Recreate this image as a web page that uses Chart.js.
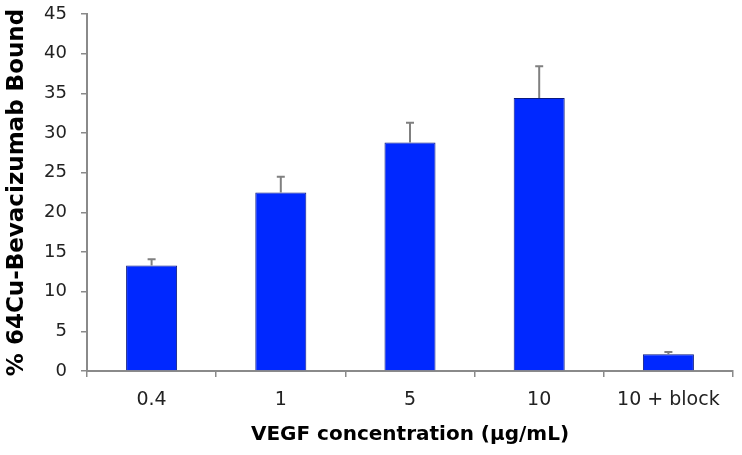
<!DOCTYPE html>
<html>
<head>
<meta charset="utf-8">
<script src="https://cdn.jsdelivr.net/npm/chart.js@4"></script>
<style>
  html, body { margin: 0; padding: 0; background: #fff; }
</style>
</head>
<body>
<canvas id="boundChart" width="742" height="455"></canvas>
<script>
// values
const categories = ["0.4", "1", "5", "10", "10 + block"];
const bound = [13.3, 22.5, 28.8, 34.4, 2.1];
const boundErr = [0.8, 2.0, 2.5, 4.0, 0.3];
const yTicks = [0, 5, 10, 15, 20, 25, 30, 35, 40, 45];

const axisGrey = "#8a8a8a";
const font = "'DejaVu Sans', sans-serif";

// draw upward error bars from the y scale
const errorBars = {
    id: "errorBars",
    afterDatasetsDraw(chart) {
        const meta = chart.getDatasetMeta(0);
        const y = chart.scales.y;
        const c = chart.ctx;
        c.save();
        c.strokeStyle = "#808080";
        c.lineWidth = 2;
        meta.data.forEach((bar, i) => {
            const yTop = y.getPixelForValue(bound[i] + boundErr[i]);
            const yBase = y.getPixelForValue(bound[i]);
            c.beginPath();
            c.moveTo(bar.x, yBase);
            c.lineTo(bar.x, yTop);
            c.moveTo(bar.x - 4, yTop);
            c.lineTo(bar.x + 4, yTop);
            c.stroke();
        });
        c.restore();
    }
};

const ctx = document.getElementById("boundChart");

new Chart(ctx, {
    type: "bar",
    data: {
        labels: categories,
        datasets: [
            {
                data: bound,
                backgroundColor: "#0028ff",
                borderColor: "#0a1a80",
                borderWidth: 1,
                categoryPercentage: 1,
                barPercentage: 0.395
            }
        ]
    },
    options: {
        responsive: false,
        animation: false,
        layout: { padding: { left: 0, right: 9, top: 14, bottom: 0 } },
        plugins: {
            legend: { display: false },
            tooltip: { enabled: false }
        },
        scales: {
            x: {
                afterFit: (s) => { s.height = 84; },
                grid: {
                    offset: true,
                    drawOnChartArea: false,
                    color: axisGrey,
                    lineWidth: 1.5,
                    tickLength: 6
                },
                border: { color: axisGrey, width: 2 },
                ticks: {
                    color: "#222",
                    padding: 12,
                    autoSkip: false,
                    maxRotation: 0,
                    font: { family: font, size: 19 }
                },
                title: {
                    display: true,
                    text: "VEGF concentration (μg/mL)",
                    color: "#000",
                    padding: { top: 4, bottom: 8 },
                    font: { family: font, size: 20, weight: "bold" }
                }
            },
            y: {
                min: 0,
                max: 45,
                afterFit: (s) => {
                    s.width = 87;
                    s.paddingTop = 11; // tick padding would otherwise push the plot down
                    s.paddingBottom = 11;
                },
                afterBuildTicks: (s) => { s.ticks = yTicks.map(v => ({ value: v })); },
                grid: {
                    drawOnChartArea: false,
                    color: axisGrey,
                    lineWidth: 1.5,
                    tickLength: 6
                },
                border: { color: axisGrey, width: 2 },
                ticks: {
                    color: "#222",
                    padding: 14,
                    font: { family: font, size: 18 }
                },
                title: {
                    display: true,
                    text: "% 64Cu-Bevacizumab Bound",
                    color: "#000",
                    padding: { top: 3, bottom: 0 },
                    font: { family: font, size: 23, weight: "bold" }
                }
            }
        }
    },
    plugins: [errorBars]
});
</script>
</body>
</html>
